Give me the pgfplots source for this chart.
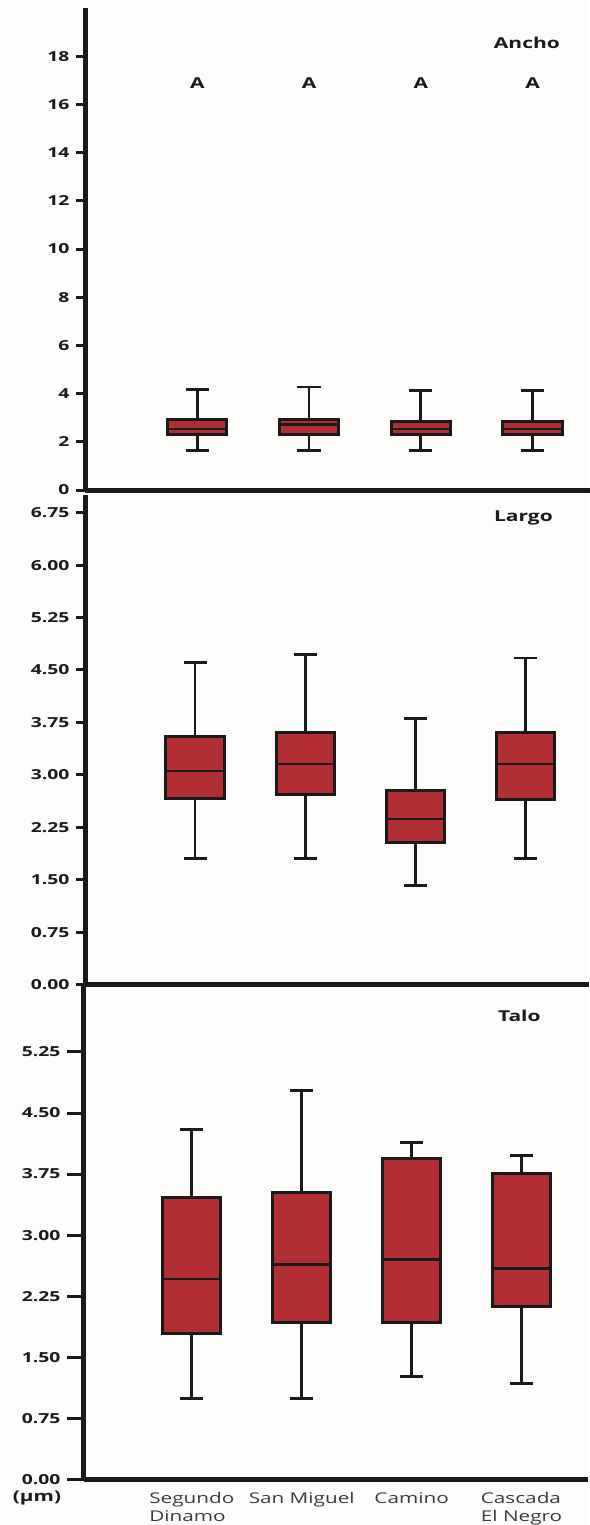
\documentclass[border=0pt]{standalone}
\usepackage{fontspec}
\setmainfont{Open Sans}[FakeStretch=1.4]
\usepackage{pgfplots}
\pgfplotsset{compat=1.18}
\usepgfplotslibrary{statistics}

\definecolor{boxred}{RGB}{177,47,50}
\definecolor{paper}{RGB}{253,252,250}
\definecolor{ink}{RGB}{26,26,26}

\tikzset{ttl/.style={font=\bfseries\fontsize{7.5}{9}\selectfont, text=ink}}

\pgfplotsset{
  panel/.style={
    scale only axis, width=252pt, anchor=south west,
    ymin=0,
    axis x line=bottom, axis y line=left,
    axis line style={line width=2.5pt, -, ink},
    xtick=\empty,
    ytick pos=left, tick align=outside,
    major tick length=4.5pt,
    every tick/.style={line width=1.5pt, ink},
    /pgf/number format/assume math mode=true,
    yticklabel style={font=\bfseries\fontsize{6.9}{8}\selectfont, text=ink},
    clip=false,
    boxplot/draw direction=y,
    boxplot/box extend=0.53,
    boxplot/whisker extend=0.21,
    boxplot/every median/.style={line width=1.1pt, ink},
    boxplot/every whisker/.style={line width=1.35pt, ink},
  },
  twodec/.style={
    yticklabel style={/pgf/number format/.cd, fixed, fixed zerofill, precision=2},
  },
  bx/.style={fill=boxred, draw=ink, line width=1.55pt, solid, mark=none},
}

\begin{document}
\begin{tikzpicture}
\fill[paper] (0,0) rectangle (294.5pt,-762.5pt);
\path[use as bounding box] (0,0) rectangle (294.5pt,-762.5pt);

% Ancho
\begin{axis}[panel, at={(42.75pt,-245pt)}, height=241pt, ymax=20,
  xmin=0, xmax=4.51,
  ytick={0,2,4,6,8,10,12,14,16,18}]
  \addplot[bx, boxplot prepared={lower whisker=1.65, lower quartile=2.31, median=2.52, upper quartile=2.93, upper whisker=4.16, draw position=1}] coordinates {};
  \addplot[bx, boxplot prepared={lower whisker=1.65, lower quartile=2.31, median=2.72, upper quartile=2.93, upper whisker=4.28, draw position=2}] coordinates {};
  \addplot[bx, boxplot prepared={lower whisker=1.65, lower quartile=2.31, median=2.52, upper quartile=2.84, upper whisker=4.14, draw position=3}] coordinates {};
  \addplot[bx, boxplot prepared={lower whisker=1.65, lower quartile=2.31, median=2.52, upper quartile=2.84, upper whisker=4.14, draw position=4}] coordinates {};
  \node[ttl] at (axis cs:3.95,18.57) {Ancho};
  \node[ttl] at (axis cs:1,16.9) {A};
  \node[ttl] at (axis cs:2,16.9) {A};
  \node[ttl] at (axis cs:3,16.9) {A};
  \node[ttl] at (axis cs:4,16.9) {A};
\end{axis}

% Largo
\begin{axis}[panel, twodec, at={(42.75pt,-492.25pt)}, height=244.65pt, ymax=7,
  xmin=0.005, xmax=4.58,
  ytick={0,0.75,1.5,2.25,3,3.75,4.5,5.25,6,6.75}]
  \addplot[bx, boxplot prepared={lower whisker=1.80, lower quartile=2.66, median=3.06, upper quartile=3.55, upper whisker=4.61, draw position=1}] coordinates {};
  \addplot[bx, boxplot prepared={lower whisker=1.80, lower quartile=2.72, median=3.15, upper quartile=3.61, upper whisker=4.72, draw position=2}] coordinates {};
  \addplot[bx, boxplot prepared={lower whisker=1.42, lower quartile=2.03, median=2.37, upper quartile=2.77, upper whisker=3.81, draw position=3}] coordinates {};
  \addplot[bx, boxplot prepared={lower whisker=1.80, lower quartile=2.65, median=3.15, upper quartile=3.61, upper whisker=4.67, draw position=4}] coordinates {};
  \node[ttl] at (axis cs:3.98,6.68) {Largo};
\end{axis}

% Talo
\begin{axis}[panel, twodec, at={(41.75pt,-739.65pt)}, height=246.65pt, ymax=6.06,
  xmin=0.015, xmax=4.6,
  major tick length=8pt,
  ytick={0,0.75,1.5,2.25,3,3.75,4.5,5.25},
  xtick={1,2,3,4},
  xticklabels={{Segundo\\Dinamo},{San Miguel},{Camino},{Cascada\\El Negro}},
  xtick style={draw=none},
  xticklabel style={align=left, anchor=north, inner sep=1pt, yshift=2.5pt,
    font=\fontsize{7.4}{9}\selectfont, text={rgb,255:red,60;green,60;blue,60}}]
  \addplot[bx, boxplot prepared={lower whisker=0.99, lower quartile=1.79, median=2.46, upper quartile=3.46, upper whisker=4.30, draw position=1}] coordinates {};
  \addplot[bx, boxplot prepared={lower whisker=0.99, lower quartile=1.93, median=2.64, upper quartile=3.52, upper whisker=4.78, draw position=2}] coordinates {};
  \addplot[bx, boxplot prepared={lower whisker=1.26, lower quartile=1.93, median=2.70, upper quartile=3.94, upper whisker=4.14, draw position=3}] coordinates {};
  \addplot[bx, boxplot prepared={lower whisker=1.18, lower quartile=2.12, median=2.59, upper quartile=3.76, upper whisker=3.98, draw position=4}] coordinates {};
  \node[ttl] at (axis cs:3.98,5.69) {Talo};
\end{axis}

\node[font=\bfseries\fontsize{7.4}{9}\selectfont, text=ink] at (18.5pt,-749pt) {(µm)};
\end{tikzpicture}
\end{document}
